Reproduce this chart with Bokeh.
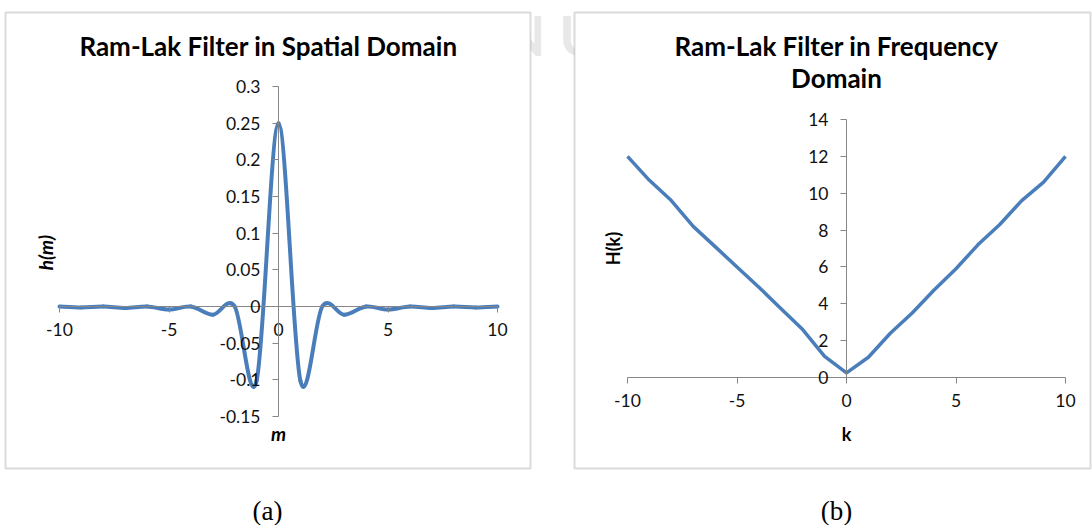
import math

from bokeh.plotting import figure
from bokeh.models import Range1d, LinearAxis, FixedTicker, Label, BoxAnnotation
from bokeh.embed import file_html
from bokeh.resources import INLINE

# ---- data -------------------------------------------------------------
# Ram-Lak filter, spatial domain samples h(m)
m_vals = [-10, -9, -8, -7, -6, -5, -4, -3, -2, -1, 0, 1, 2, 3, 4, 5, 6, 7, 8, 9, 10]
h_vals = [0.0, -0.0013, 0.0, -0.0021, 0.0, -0.0041, 0.0, -0.0113, 0.0, -0.1013, 0.25,
          -0.1013, 0.0, -0.0113, 0.0, -0.0041, 0.0, -0.0021, 0.0, -0.0013, 0.0]

# Ram-Lak filter, frequency domain response H(k)
k_vals = [-10, -9, -8, -7, -6, -5, -4, -3, -2, -1, 0, 1, 2, 3, 4, 5, 6, 7, 8, 9, 10]
H_vals = [12.0, 10.7, 9.6, 8.2, 7.1, 6.0, 4.9, 3.75, 2.6, 1.15, 0.25,
          1.1, 2.4, 3.5, 4.75, 5.9, 7.2, 8.3, 9.6, 10.6, 12.0]

m_ticks = [-10, -5, 0, 5, 10]
m_tick_labels = ["-10", "-5", "0", "5", "10"]
h_ticks = [-0.15, -0.1, -0.05, 0, 0.05, 0.1, 0.15, 0.2, 0.25, 0.3]
h_tick_labels = ["-0.15", "-0.1", "-0.05", "0", "0.05", "0.1", "0.15", "0.2", "0.25", "0.3"]
k_ticks = [-10, -5, 0, 5, 10]
k_tick_labels = ["-10", "-5", "0", "5", "10"]
H_ticks = [0, 2, 4, 6, 8, 10, 12, 14]

# ---- page geometry (pixels from the top-left corner) ------------------
W, HGT = 1092, 525
LINE_BLUE = "#4A7EBB"
AXIS_GREY = "#868686"
FONT = "Lato"


def x_range_for(v0, px0, v1, px1):
    per_px = (v1 - v0) / (px1 - px0)
    return Range1d(v0 - px0 * per_px, v0 + (W - px0) * per_px)


def y_range_for(v_top, px_top, v_bot, px_bot):
    per_px = (v_bot - v_top) / (px_bot - px_top)
    return Range1d(v_top + (HGT - px_top) * per_px, v_top - px_top * per_px)


p = figure(width=W, height=HGT, x_range=Range1d(0, W), y_range=Range1d(HGT, 0),
           x_axis_type=None, y_axis_type=None, min_border=0,
           toolbar_location=None, output_backend="svg")
p.outline_line_color = None
p.background_fill_color = "white"
p.border_fill_color = "white"

p.extra_x_ranges = {"xl": x_range_for(-10, 59, 10, 497),
                    "xr": x_range_for(-10, 627, 10, 1065)}
p.extra_y_ranges = {"yl": y_range_for(0.3, 86, -0.15, 416),
                    "yr": y_range_for(14, 119, 0, 377)}

# faint watermark, mostly hidden behind the two chart boxes
p.add_layout(Label(x=502, y=34, text="N U", text_font=FONT, text_font_style="bold",
                   text_font_size="56px", text_color="#e8e8e8", text_align="left",
                   text_baseline="middle", level="underlay"))

# chart boxes
for left, right in [(5, 530), (574, 1090)]:
    p.add_layout(BoxAnnotation(left=left, right=right, top=12, bottom=468,
                               fill_color="white", fill_alpha=1.0,
                               line_color=AXIS_GREY, line_width=2, level="underlay"))


def style_axis(ax, standoff):
    ax.axis_line_color = AXIS_GREY
    ax.axis_line_width = 1
    ax.major_tick_line_color = AXIS_GREY
    ax.major_tick_out = 6
    ax.major_tick_in = 0
    ax.minor_tick_line_color = None
    ax.major_label_text_font = FONT
    ax.major_label_text_font_size = "17.5px"
    ax.major_label_text_color = "#111111"
    ax.major_label_standoff = standoff


# ---- left chart: smoothed spatial response ----------------------------
n = len(m_vals)
pts = list(zip(m_vals, h_vals))
x0, y0, x1, y1, cx0, cy0, cx1, cy1 = ([] for _ in range(8))
for i in range(n - 1):
    pa = pts[max(i - 1, 0)]
    pb = pts[i]
    pc = pts[i + 1]
    pd = pts[min(i + 2, n - 1)]
    x0.append(pb[0]); y0.append(pb[1])
    x1.append(pc[0]); y1.append(pc[1])
    cx0.append(pb[0] + (pc[0] - pa[0]) / 6.0); cy0.append(pb[1] + (pc[1] - pa[1]) / 6.0)
    cx1.append(pc[0] - (pd[0] - pb[0]) / 6.0); cy1.append(pc[1] - (pd[1] - pb[1]) / 6.0)

p.bezier(x0=x0, y0=y0, x1=x1, y1=y1, cx0=cx0, cy0=cy0, cx1=cx1, cy1=cy1,
         line_color=LINE_BLUE, line_width=4, line_cap="round",
         x_range_name="xl", y_range_name="yl")

ax = LinearAxis(x_range_name="xl", y_range_name="yl", fixed_location=0,
                bounds=(m_ticks[0], m_ticks[-1]), ticker=FixedTicker(ticks=m_ticks),
                major_label_overrides=dict(zip(m_ticks, m_tick_labels)))
style_axis(ax, 10)
p.add_layout(ax, "below")

ay = LinearAxis(x_range_name="xl", y_range_name="yl", fixed_location=0,
                bounds=(h_ticks[0], h_ticks[-1]), ticker=FixedTicker(ticks=h_ticks),
                major_label_overrides=dict(zip(h_ticks, h_tick_labels)))
style_axis(ay, 12)
p.add_layout(ay, "left")

# ---- right chart: frequency response ----------------------------------
p.line(k_vals, H_vals, line_color=LINE_BLUE, line_width=3.5, line_join="round",
       x_range_name="xr", y_range_name="yr")

bx = LinearAxis(x_range_name="xr", y_range_name="yr", fixed_location=0,
                bounds=(k_ticks[0], k_ticks[-1]), ticker=FixedTicker(ticks=k_ticks),
                major_label_overrides=dict(zip(k_ticks, k_tick_labels)))
style_axis(bx, 10)
p.add_layout(bx, "below")

by = LinearAxis(x_range_name="xr", y_range_name="yr", fixed_location=0,
                bounds=(H_ticks[0], H_ticks[-1]), ticker=FixedTicker(ticks=H_ticks))
style_axis(by, 12)
p.add_layout(by, "left")

# ---- titles, axis names, captions -------------------------------------
def text(x, y, s, size, style="normal", font=FONT, angle=0.0):
    p.add_layout(Label(x=x, y=y, text=s, text_font=font, text_font_size=size,
                       text_font_style=style, text_color="#000000", angle=angle,
                       text_align="center", text_baseline="middle"))


text(268, 45, "Ram-Lak Filter in Spatial Domain", "26px", "bold")
text(836, 45, "Ram-Lak Filter in Frequency", "26px", "bold")
text(836, 77, "Domain", "26px", "bold")

text(45, 252, "h(m)", "19px", "bold italic", angle=math.pi / 2)
text(278, 433, "m", "19px", "bold italic")
text(612, 248, "H(k)", "18px", "bold", angle=math.pi / 2)
text(846, 433, "k", "18px", "bold")

text(267, 510, "(a)", "27px", font="Liberation Serif")
text(836, 510, "(b)", "27px", font="Liberation Serif")

open("out.html", "w").write(file_html(p, INLINE))
